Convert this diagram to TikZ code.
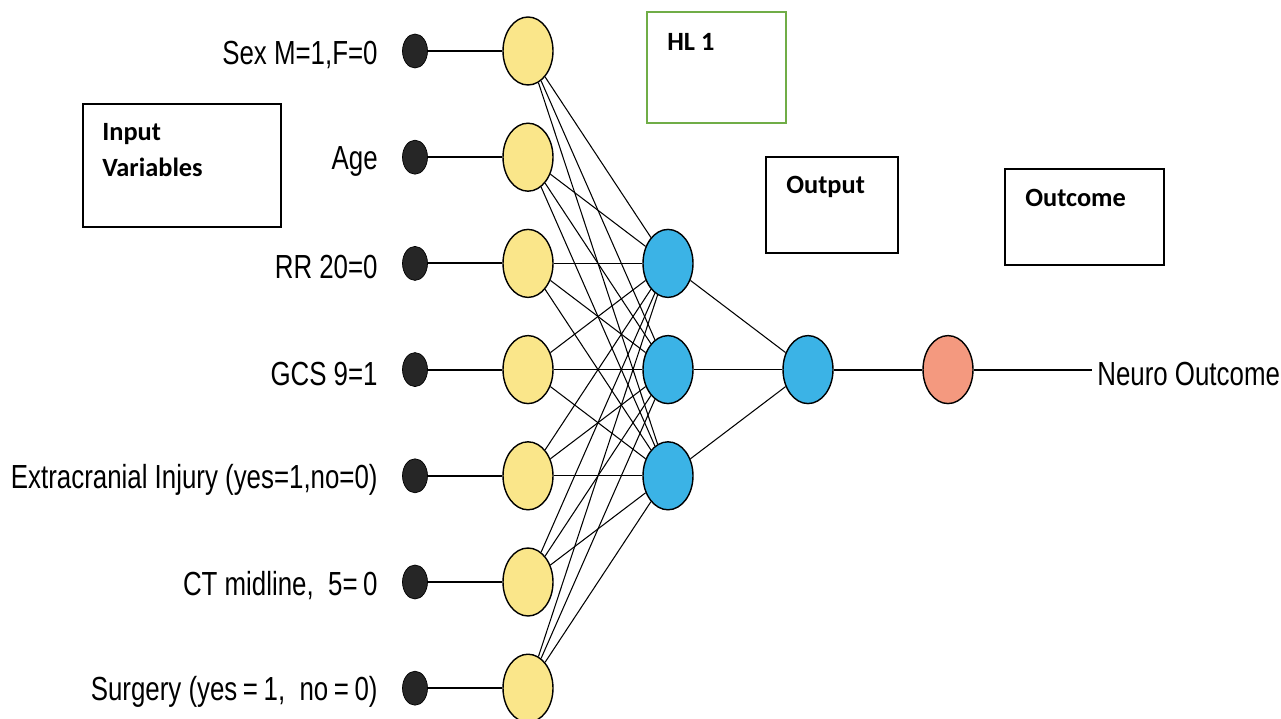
\documentclass[tikz,border=0pt]{standalone}
\usepackage{fontspec}
\setmainfont{Liberation Sans}
\newfontfamily\varfont[FakeStretch=0.775]{Liberation Sans}
\newfontfamily\tagfont{Carlito}
\usetikzlibrary{shapes.geometric}

\definecolor{cellyellow}{HTML}{FAE68A}
\definecolor{cellblue}{HTML}{3BB3E6}
\definecolor{cellsalmon}{HTML}{F4997F}
\definecolor{boxgreen}{HTML}{70AD47}

\tikzset{
  inputdot/.style={ellipse, draw=black, fill=black!85, minimum width=0.5cm, minimum height=0.68cm, inner sep=0pt},
  neuron/.style={ellipse, draw=black, line width=0.8pt, minimum width=1cm, minimum height=1.36cm, inner sep=0pt},
  varlabel/.style={font=\varfont\fontsize{19}{22}\selectfont, inner sep=0pt},
  tagtext/.style={font=\tagfont\fontsize{15}{20}\selectfont\bfseries, inner sep=0pt, align=left},
  synapse/.style={line width=0.6pt},
  wire/.style={line width=1.1pt},
  tagbox/.style={line width=1.1pt}
}

\begin{document}
\begin{tikzpicture}[x=0.02cm, y=-0.02cm]
  \useasboundingbox (0,0) rectangle (1281,719);

  % input variables, dots and first layer
  \foreach \lab [count=\i, evaluate=\i as \yy using 51+(\i-1)*106.2] in
      {{Sex M=1,F=0}, Age, RR 20=0, GCS 9=1, {Extracranial Injury (yes=1,no=0)},
       {CT midline,\ \ 5=\,0}, {Surgery (yes\,=\,1,\ \ no\,=\,0)}} {
    \node[inputdot] (x\i) at (415,\yy) {};
    \node[neuron, fill=cellyellow] (in\i) at (528,\yy) {};
    \node[varlabel, anchor=east] (lab\i) at (378,\yy+4) {\lab};
    \draw[wire] (x\i) -- (in\i);
  }

  % hidden layer
  \foreach \j in {1,2,3}
    \node[neuron, fill=cellblue] (hid\j) at (668,263.4+\j*106.2-106.2) {};

  \node[neuron, fill=cellblue] (out) at (808,369.6) {};
  \node[neuron, fill=cellsalmon] (res) at (948,369.6) {};
  \coordinate (tip) at (1092,369.6);
  \node[varlabel, anchor=west] (neuro) at (1097,374) {Neuro Outcome};

  \foreach \i in {1,...,7}
    \foreach \j in {1,2,3}
      \draw[synapse] (in\i) -- (hid\j);
  \foreach \j in {1,2,3}
    \draw[synapse] (hid\j) -- (out);
  \draw[wire] (out) -- (res);
  \draw[wire] (res) -- (tip);

  % caption boxes
  \draw[tagbox] (83,104) rectangle (281,227);
  \node[tagtext, anchor=west] (tagin) at (102,150) {Input\\Variables};
  \draw[tagbox, draw=boxgreen] (647,12) rectangle (786,123);
  \node[tagtext, anchor=west] (taghl) at (667,42) {HL 1};
  \draw[tagbox] (766,157) rectangle (898,253);
  \node[tagtext, anchor=west] (tagout) at (786,187) {Output};
  \draw[tagbox] (1005,169) rectangle (1164,265);
  \node[tagtext, anchor=west] (tagres) at (1025,198) {Outcome};
\end{tikzpicture}
\end{document}
